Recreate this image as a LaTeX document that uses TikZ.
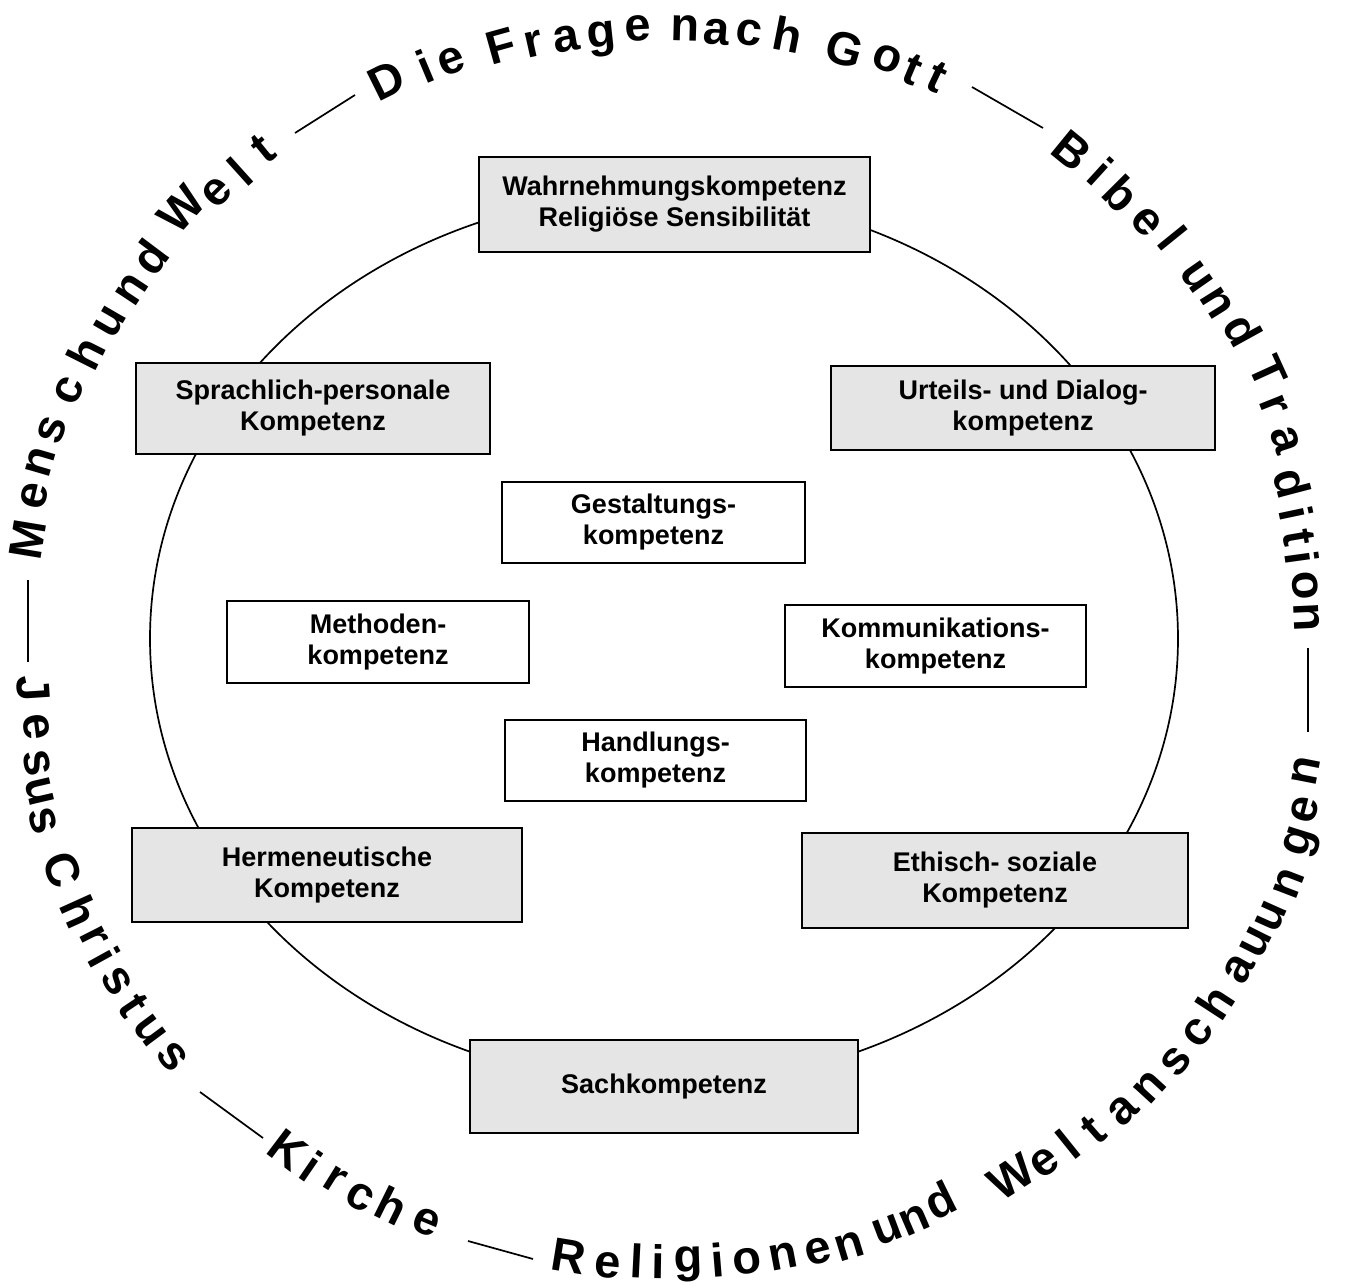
\documentclass[tikz,border=0pt]{standalone}
\usepackage{fontspec}
\setmainfont{Liberation Sans}
\definecolor{boxgray}{RGB}{229,229,229}
\begin{document}
\begin{tikzpicture}[x=0.5pt,y=-0.5pt,
  boxtext/.style={font=\bfseries\fontsize{13.5}{15.5}\selectfont, align=center, inner sep=0pt},
  graybox/.style={boxtext, draw=black, line width=1.35pt, fill=boxgray},
  whitebox/.style={boxtext, draw=black, line width=1.1pt, fill=white},
  ringletter/.style={font=\bfseries\fontsize{23.5}{23.5}\selectfont, inner sep=0pt, anchor=center},
  ringline/.style={line width=0.85pt},
  orbit/.style={line width=0.85pt}]
\useasboundingbox (0,0) rectangle (1346,1288);

% inner ellipse
\draw[orbit] (664,638.6) ellipse [x radius=257pt, y radius=223pt];

% competence boxes
\node[graybox, minimum width=195.5pt, minimum height=47.5pt] (wahr) at (674.5,204.5) {Wahrnehmungskompetenz\\Religiöse Sensibilität};
\node[graybox, minimum width=177pt, minimum height=45.5pt] (sprach) at (313,408.5) {Sprachlich-personale\\Kompetenz};
\node[graybox, minimum width=192pt, minimum height=42pt] (urteil) at (1023,408) {Urteils- und Dialog-\\kompetenz};
\node[whitebox, minimum width=151.5pt, minimum height=40.5pt] (gestalt) at (653.5,522.5) {Gestaltungs-\\kompetenz};
\node[whitebox, minimum width=151pt, minimum height=41pt] (methode) at (378,642) {Methoden-\\kompetenz};
\node[whitebox, minimum width=150.5pt, minimum height=41pt] (kommu) at (935.5,646) {Kommunikations-\\kompetenz};
\node[whitebox, minimum width=150.5pt, minimum height=40.5pt] (handl) at (655.5,760.5) {Handlungs-\\kompetenz};
\node[graybox, minimum width=195pt, minimum height=47pt] (herme) at (327,875) {Hermeneutische\\Kompetenz};
\node[graybox, minimum width=193pt, minimum height=47.5pt] (ethik) at (995,880.5) {Ethisch- soziale\\Kompetenz};
\node[graybox, minimum width=194pt, minimum height=46.5pt] (sach) at (664,1086.5) {Sachkompetenz};

% outer ring text, clockwise part (tops outward)
\foreach \ch/\x/\y [count=\i] in {
  M/28/540, e/34/496, n/40/462, s/52/430, c/69/391, h/86/353,
  u/110/322, n/132/290, d/150/257,
  W/181/209, e/217/192, l/240/171, t/263/149,
  D/387/80, i/425/66, e/451/61,
  F/501/46, r/534/44, a/566/39, g/602/39, e/638/28,
  n/685/28, a/717/32, c/749/33, h/788/35,
  G/845/49, o/887/59, t/913/70, t/937/77,
  B/1072/151, i/1101/171, b/1122/194, e/1146/222, l/1173/238,
  u/1197/277, n/1217/303, d/1243/330,
  T/1268/372, r/1274/405, a/1285/440, d/1292/483, i/1297/513,
  t/1299/538, i/1302/558, o/1305/586, n/1307/617}
{
  \pgfmathsetmacro\ang{atan2(646-\y,\x-668)-90}
  \node[ringletter, rotate=\ang] (cw\i) at (\x,\y) {\ch};
}

% outer ring text, counter-clockwise part (tops inward)
\foreach \ch/\x/\y [count=\i] in {
  J/33/688, e/36/727, s/37/763, u/40/792, s/43/821,
  C/63/870, h/80/912, r/94/937, i/105/957, s/117/981, t/133/1006, u/150/1031, s/172/1057,
  K/288/1150, i/312/1166, r/335/1180, c/360/1197, h/392/1206, e/426/1222,
  R/569/1256, e/608/1265, l/637/1261, i/658/1262, g/689/1264, i/718/1260,
  o/747/1261, n/783/1256, e/818/1251, n/850/1246,
  u/888/1230, n/915/1220, d/940/1200,
  W/1011/1177, e/1045/1163, l/1068/1144, t/1093/1130, a/1123/1110, n/1150/1087,
  s/1176/1062, c/1198/1033, h/1215/1002, a/1239/969, u/1256/942, u/1271/916,
  n/1289/884, g/1302/843, e/1305/810, n/1306/771}
{
  \pgfmathsetmacro\ang{atan2(646-\y,\x-668)+90}
  \node[ringletter, rotate=\ang] (ccw\i) at (\x,\y) {\ch};
}

% separators between the themes
\coordinate (s1a) at (295,133);  \coordinate (s1b) at (355,95);
\coordinate (s2a) at (972,87);   \coordinate (s2b) at (1043,128);
\coordinate (s3a) at (1308,648); \coordinate (s3b) at (1308,732);
\coordinate (s4a) at (468,1241); \coordinate (s4b) at (533,1259);
\coordinate (s5a) at (200,1092); \coordinate (s5b) at (263,1138);
\coordinate (s6a) at (28,580);   \coordinate (s6b) at (28,662);
\draw[ringline] (s1a) -- (s1b);
\draw[ringline] (s2a) -- (s2b);
\draw[ringline] (s3a) -- (s3b);
\draw[ringline] (s4a) -- (s4b);
\draw[ringline] (s5a) -- (s5b);
\draw[ringline] (s6a) -- (s6b);
\end{tikzpicture}
\end{document}
